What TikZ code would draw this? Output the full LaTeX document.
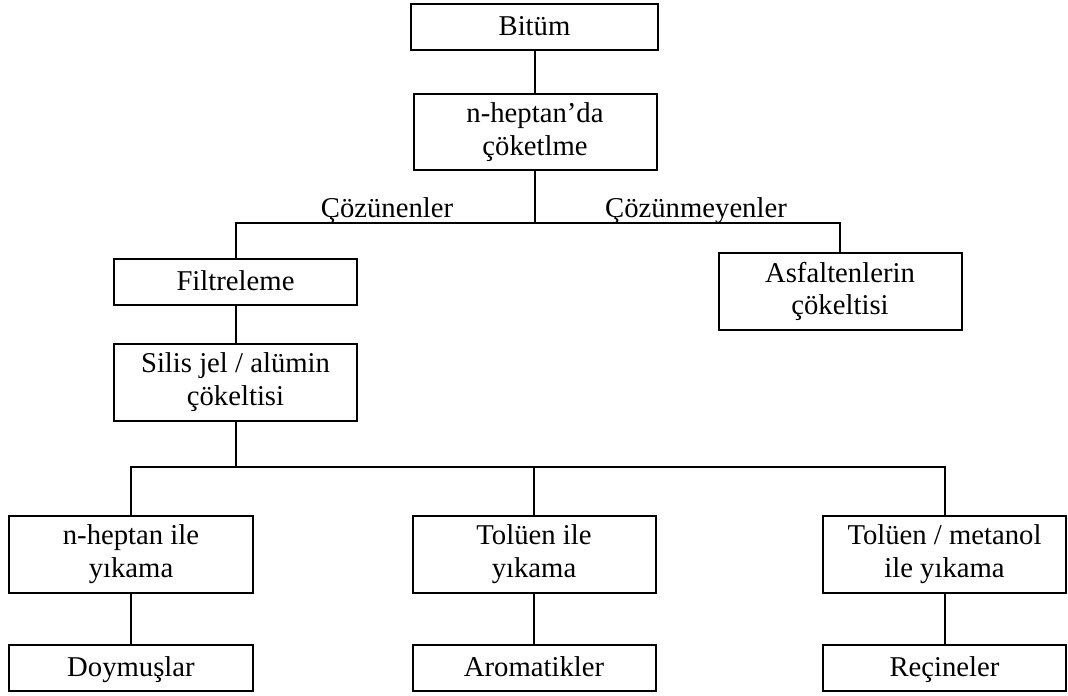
\documentclass[tikz,border=0pt]{standalone}
\usepackage{fontspec}
\setmainfont{Liberation Serif}
\begin{document}
\begin{tikzpicture}[x=1bp,y=-1bp,
  txt/.style={font=\fontsize{28.8}{33}\selectfont},
  box/.style={draw, line width=2bp, inner sep=0pt, align=center, txt, minimum width=243bp},
  one/.style={box, minimum height=46bp, text height=20bp, text depth=3bp},
  two/.style={box, minimum height=77bp},
  conn/.style={line width=2bp},
  lbl/.style={txt, inner sep=0pt, anchor=base}]
\useasboundingbox (0,0) rectangle (1068,696);
\fill[white] (0,0) rectangle (1068,696);
\node[one, minimum width=247bp] (bitum) at (534.5,27) {Bitüm};
\node[two, minimum height=76bp] (nhep) at (535,132) {n-heptan’da\\çöketlme};
\node[one] (filt) at (235.5,282) {Filtreleme};
\node[two] (asf) at (840,291.5) {Asfaltenlerin\\çökeltisi};
\node[two] (silis) at (235.5,382.5) {Silis jel / alümin\\çökeltisi};
\node[two] (nhepile) at (131,554.5) {n-heptan ile\\yıkama};
\node[two] (tol) at (534,554.5) {Tolüen ile\\yıkama};
\node[two] (tolmet) at (944.5,554.5) {Tolüen / metanol\\ile yıkama};
\node[one] (doy) at (131,668) {Doymuşlar};
\node[one] (arom) at (534,668) {Aromatikler};
\node[one] (rec) at (944.5,668) {Reçineler};
\coordinate (j1) at (535,223);
\coordinate (j2) at (235.5,467);
\node[lbl] (cozl) at (387,217) {Çözünenler};
\node[lbl] (cozr) at (696,217) {Çözünmeyenler};
\draw[conn] (bitum.south) -- (bitum.south |- nhep.north);
\draw[conn] (nhep.south) -- (j1);
\draw[conn] (filt.north) |- (asf.north |- j1) -- (asf.north);
\draw[conn] (filt.south) -- (silis.north);
\draw[conn] (silis.south) -- (j2);
\draw[conn] (nhepile.north) |- (tolmet.north |- j2) -- (tolmet.north);
\draw[conn] (tol.north) -- (tol.north |- j2);
\draw[conn] (nhepile.south) -- (doy.north);
\draw[conn] (tol.south) -- (arom.north);
\draw[conn] (tolmet.south) -- (rec.north);
\end{tikzpicture}
\end{document}
